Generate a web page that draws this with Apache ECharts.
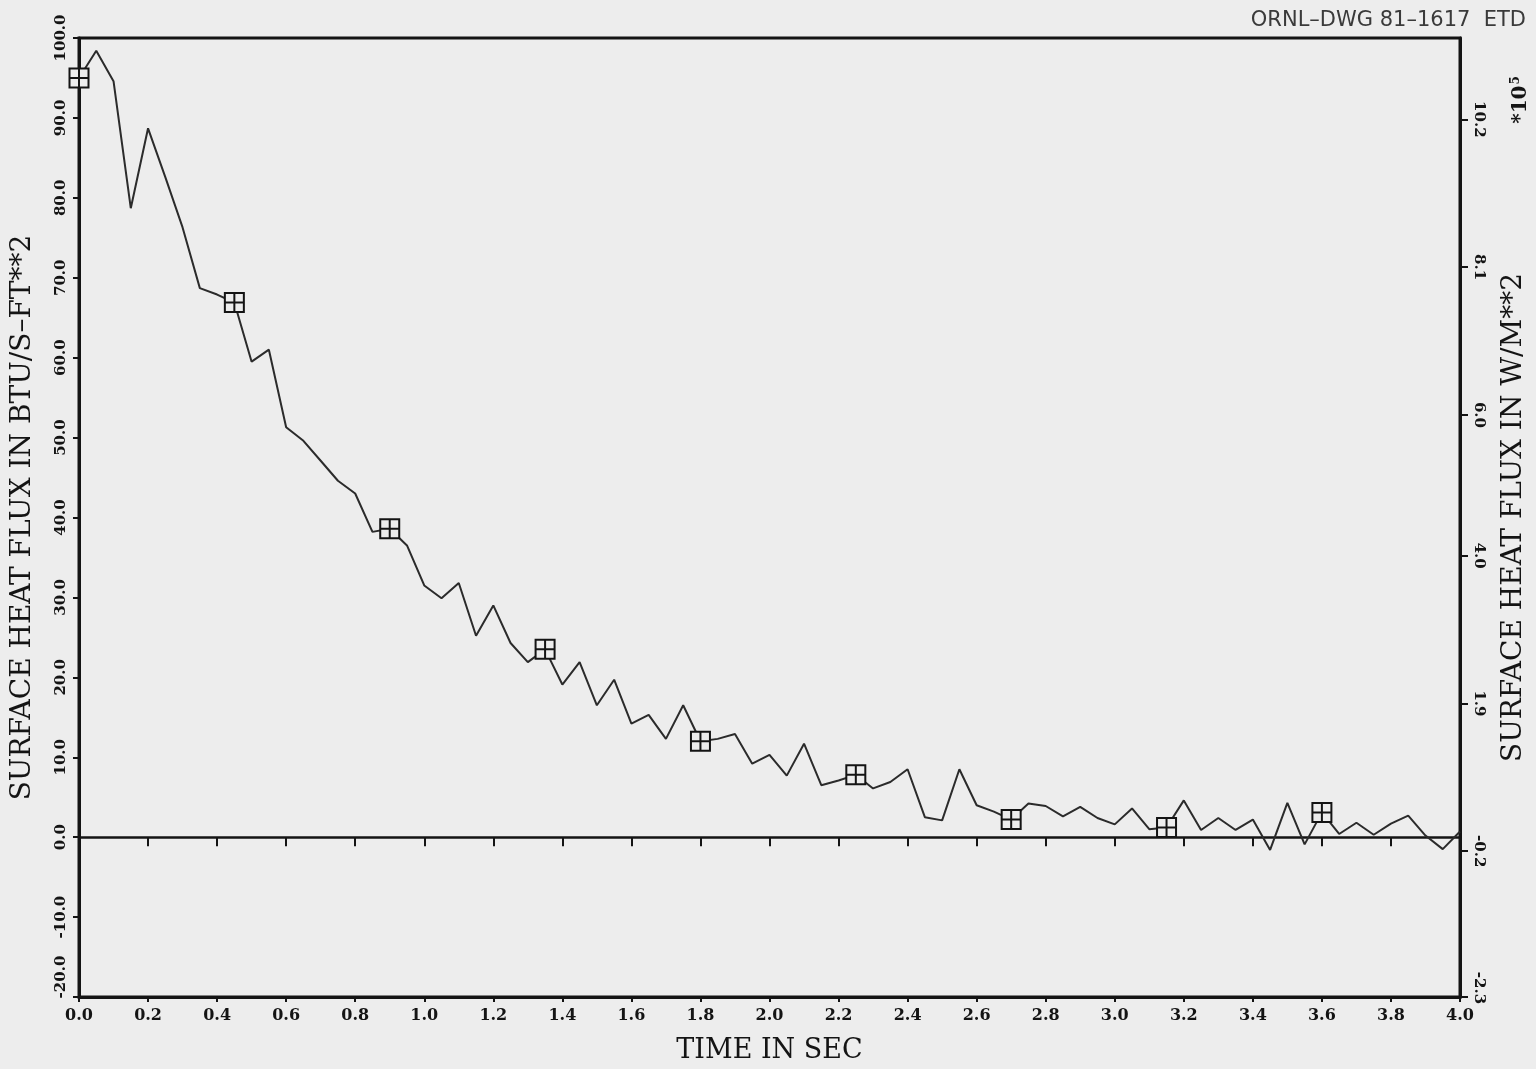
<!DOCTYPE html>
<html>
<head>
<meta charset="utf-8">
<script src="https://cdn.jsdelivr.net/npm/echarts@6/dist/echarts.min.js"></script>
<style>
  html, body { margin: 0; padding: 0; background: #ededed; }
  #chart { width: 1536px; height: 1069px; }
</style>
</head>
<body>
<div id="chart"></div>
<script>
// time in sec, sampled every 0.05 s
const times = [
  0.00, 0.05, 0.10, 0.15, 0.20, 0.25, 0.30, 0.35, 0.40, 0.45,
  0.50, 0.55, 0.60, 0.65, 0.70, 0.75, 0.80, 0.85, 0.90, 0.95,
  1.00, 1.05, 1.10, 1.15, 1.20, 1.25, 1.30, 1.35, 1.40, 1.45,
  1.50, 1.55, 1.60, 1.65, 1.70, 1.75, 1.80, 1.85, 1.90, 1.95,
  2.00, 2.05, 2.10, 2.15, 2.20, 2.25, 2.30, 2.35, 2.40, 2.45,
  2.50, 2.55, 2.60, 2.65, 2.70, 2.75, 2.80, 2.85, 2.90, 2.95,
  3.00, 3.05, 3.10, 3.15, 3.20, 3.25, 3.30, 3.35, 3.40, 3.45,
  3.50, 3.55, 3.60, 3.65, 3.70, 3.75, 3.80, 3.85, 3.90, 3.95,
  4.00
];
// surface heat flux, BTU/s-ft**2
const flux = [
  95.0, 98.4, 94.6, 78.7, 88.7, 82.6, 76.3, 68.7, 67.9, 66.9,
  59.5, 61.0, 51.3, 49.6, 47.1, 44.6, 43.0, 38.2, 38.6, 36.5,
  31.5, 29.9, 31.8, 25.2, 29.0, 24.3, 21.9, 23.5, 19.1, 21.9,
  16.5, 19.7, 14.2, 15.3, 12.3, 16.5, 12.0, 12.3, 12.9, 9.2,
  10.3, 7.7, 11.7, 6.5, 7.1, 7.8, 6.1, 6.9, 8.5, 2.5,
  2.1, 8.5, 4.0, 3.2, 2.2, 4.2, 3.9, 2.6, 3.8, 2.4,
  1.6, 3.6, 1.0, 1.2, 4.6, 0.9, 2.4, 0.9, 2.2, -1.6,
  4.3, -0.9, 3.1, 0.4, 1.8, 0.3, 1.7, 2.7, 0.2, -1.5,
  0.7
];
// times carrying the square symbol
const markerTimes = [0.00, 0.45, 0.90, 1.35, 1.80, 2.25, 2.70, 3.15, 3.60];
// right axis ticks, W/m**2 * 10^5
const rightTicks = [-2.27, -0.2, 1.9, 4.0, 6.0, 8.1, 10.2];
const drawingId = 'ORNL\u2013DWG 81\u20131617  ETD';

const lineData = times.map((t, i) => [t, flux[i]]);
const markerData = markerTimes.map(t => [t, flux[times.indexOf(t)]]);

const ink = '#141414';
const serif = 'DejaVu Serif';
const bg = '#ededed';
const fmt1 = v => v.toFixed(1);

let chart = echarts.init(document.getElementById('chart'));
chart.setOption({
  backgroundColor: bg,
  animation: false,
  title: {
    text: drawingId,
    right: 5, top: 5,
    textStyle: { fontFamily: 'DejaVu Sans', fontSize: 21, fontWeight: 'normal', color: '#3a3a3a' }
  },
  grid: { left: 79, right: 74, top: 38, bottom: 71, show: true, borderColor: ink, borderWidth: 3, backgroundColor: 'transparent' },
  xAxis: [
    {
      type: 'value', min: 0, max: 4, interval: 0.2, position: 'bottom',
      name: 'TIME IN SEC', nameLocation: 'middle', nameGap: 40,
      nameTextStyle: { fontFamily: serif, fontSize: 27, color: ink },
      axisLine: { onZero: false, lineStyle: { color: ink, width: 3 } },
      axisTick: { length: 5, lineStyle: { color: ink, width: 2 } },
      axisLabel: { margin: 11, fontFamily: serif, fontWeight: 'bold', fontSize: 16, color: ink, formatter: fmt1 },
      splitLine: { show: false }
    },
    {
      // the zero line with its own ticks
      type: 'value', min: 0, max: 4, interval: 0.2, position: 'bottom',
      axisLine: { onZero: true, onZeroAxisIndex: 0, lineStyle: { color: ink, width: 2.5 } },
      axisTick: { length: 9, lineStyle: { color: ink, width: 2 } },
      axisLabel: { show: false },
      splitLine: { show: false }
    }
  ],
  yAxis: [
    {
      type: 'value', min: -20, max: 100, interval: 10, position: 'left',
      name: 'SURFACE HEAT FLUX IN BTU/S\u2013FT**2', nameLocation: 'middle', nameGap: 42, nameRotate: 90,
      nameTextStyle: { fontFamily: serif, fontSize: 28, color: ink },
      axisLine: { onZero: false, lineStyle: { color: ink, width: 3 } },
      axisTick: { length: 6, lineStyle: { color: ink, width: 2 } },
      axisLabel: {
        rotate: 90, margin: 10, fontFamily: serif, fontWeight: 'bold', fontSize: 15, color: ink,
        // the lowest label sits above its tick, clear of the time labels
        formatter: v => v === -20 ? '{low|' + fmt1(v) + '}' : fmt1(v),
        rich: { low: { fontFamily: serif, fontWeight: 'bold', fontSize: 15, color: ink, padding: [0, 0, 0, 40] } }
      },
      splitLine: { show: false }
    },
    {
      type: 'value', min: -2.2713, max: 11.3565, position: 'right',
      name: 'SURFACE HEAT FLUX IN W/M**2', nameLocation: 'middle', nameGap: 40, nameRotate: 90,
      nameTextStyle: { fontFamily: serif, fontSize: 28, color: ink },
      axisLine: { onZero: false, lineStyle: { color: ink, width: 3 } },
      axisTick: { length: 8, customValues: rightTicks, lineStyle: { color: ink, width: 2 } },
      axisLabel: {
        rotate: -90, margin: 11, customValues: rightTicks, fontFamily: serif, fontWeight: 'bold', fontSize: 15, color: ink,
        formatter: v => v < -2 ? '{low|' + fmt1(v) + '}' : fmt1(v),
        rich: { low: { fontFamily: serif, fontWeight: 'bold', fontSize: 15, color: ink, padding: [0, 18, 0, 0] } }
      },
      splitLine: { show: false }
    }
  ],
  graphic: [
    {
      type: 'text', x: 1521, y: 100, rotation: Math.PI / 2,
      style: {
        text: '{b|*10}{s|5}',
        align: 'center', verticalAlign: 'middle',
        rich: {
          b: { fontFamily: serif, fontWeight: 'bold', fontSize: 20, fill: ink },
          s: { fontFamily: serif, fontWeight: 'bold', fontSize: 12, fill: ink, verticalAlign: 'top', padding: [0, 0, 10, 1] }
        }
      }
    }
  ],
  series: [
    {
      name: 'flux', type: 'line', data: lineData, showSymbol: false,
      lineStyle: { color: '#2b2b2b', width: 2 }, z: 2
    },
    {
      name: 'marks', type: 'scatter', data: markerData,
      symbol: 'path://M0 0H20V20H0Z M10 0V20 M0 10H20', symbolSize: 19, symbolKeepAspect: true,
      itemStyle: { color: bg, borderColor: ink, borderWidth: 2, opacity: 1 }, z: 3
    }
  ]
});
</script>
</body>
</html>
